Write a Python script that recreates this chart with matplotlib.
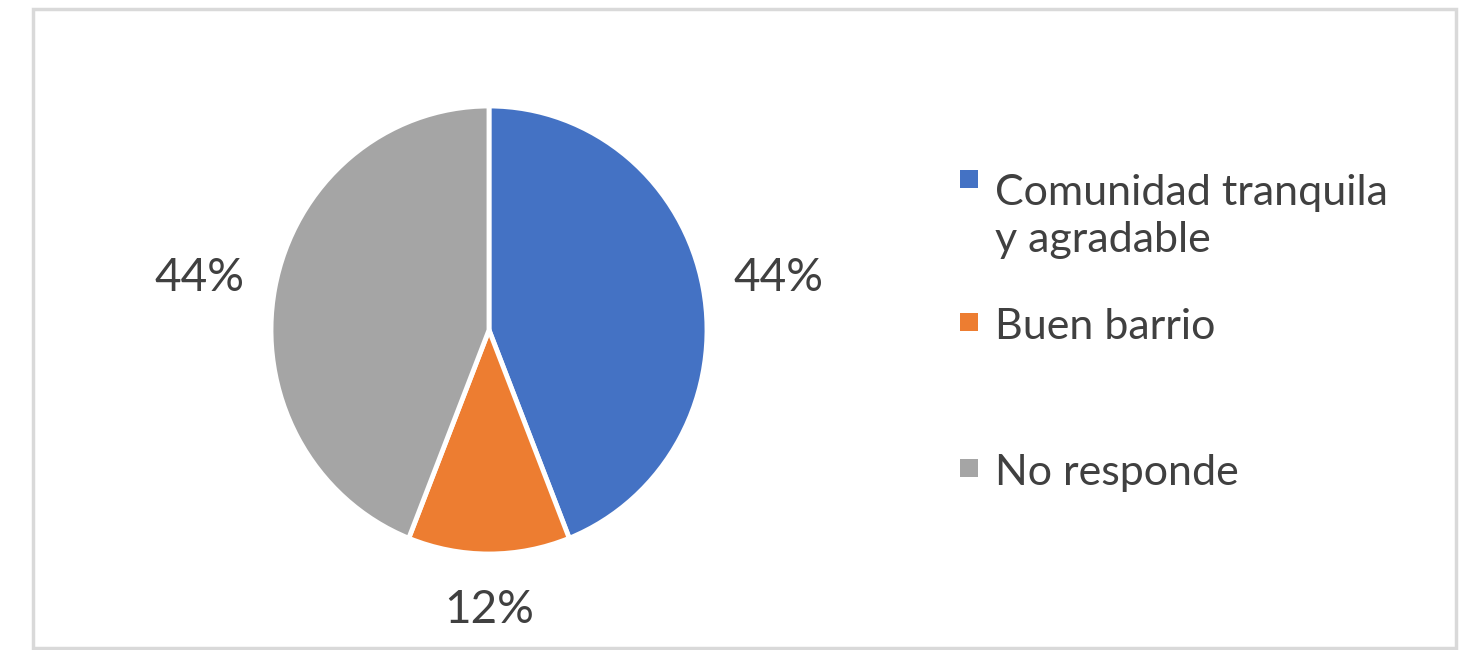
import numpy as np
import matplotlib.pyplot as plt
from matplotlib.patches import Rectangle

# data
categories = ['Comunidad tranquila\ny agradable', 'Buen barrio', 'No responde']
shares = [44, 12, 44]
colors = ['#4472C4', '#ED7D31', '#A5A5A5']

W, H = 1461, 650
fig = plt.figure(figsize=(W / 100, H / 100), dpi=100)
plt.rcParams['font.family'] = ['Lato', 'DejaVu Sans']
text_color = '#404040'

# chart border
fig.patches.append(Rectangle((33 / W, 2 / H), 1423 / W, 639 / H, transform=fig.transFigure,
                             fill=False, edgecolor='#d9d9d9', linewidth=2.5))

# pie: centre (489, 330) px from top, radius ~218 x 224 px
cx, cy, RX, RY = 489, H - 330, 218, 224
half = 300
ax = fig.add_axes([(cx - half) / W, (cy - half) / H, 2 * half / W, 2 * half / H])
wedges, _ = ax.pie(shares, colors=colors, startangle=90, counterclock=False,
                   wedgeprops=dict(edgecolor='white', linewidth=3.5))
ax.set_aspect('auto')
ax.set_xlim(-half / RX, half / RX)
ax.set_ylim(-half / RY, half / RY)
ax.axis('off')

# percentage labels
for w, v in zip(wedges, shares):
    ang = np.deg2rad((w.theta1 + w.theta2) / 2)
    r = 1.23 if abs(np.sin(ang)) > 0.9 else 1.35
    ax.text(r * np.cos(ang), r * np.sin(ang) - 0.02, f'{v}%', ha='center', va='center',
            fontsize=33, color=text_color)

# legend (first-line baselines in px from top)
legend_base = [196, 339, 485]
line_h = 56
for lab, col, y in zip(categories, colors, legend_base):
    fig.patches.append(Rectangle((960 / W, (H - y + 8) / H), 18 / W, 18 / H,
                                 transform=fig.transFigure, facecolor=col, edgecolor='none'))
    last = y + line_h * lab.count('\n')
    fig.text(995 / W, (H - last) / H, lab, ha='left', va='baseline',
             fontsize=31, color=text_color, linespacing=1.3,
             transform=fig.transFigure)

fig.savefig('out.png', dpi=100, facecolor='white')
